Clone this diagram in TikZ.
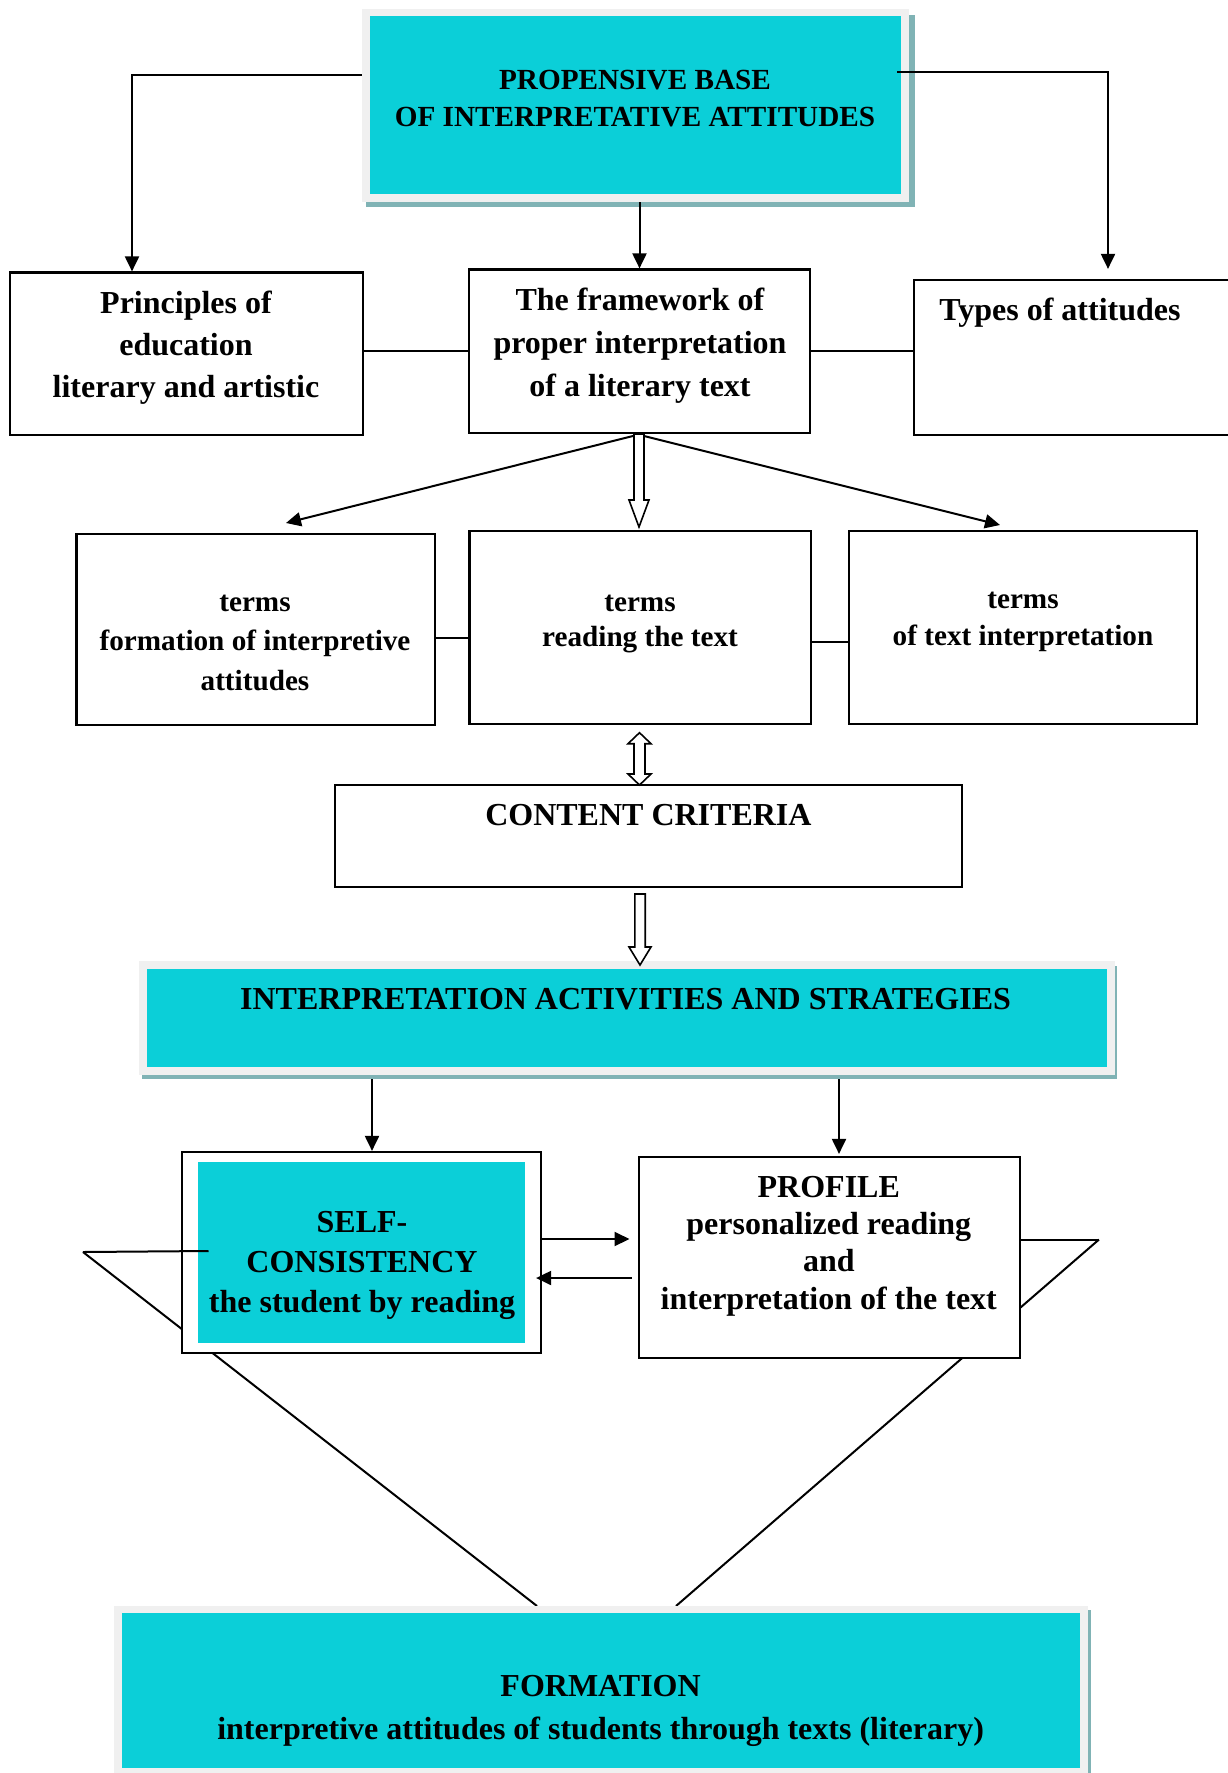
\documentclass[tikz,border=0pt]{standalone}
\usepackage{fontspec}
\setmainfont{Liberation Serif}
\usetikzlibrary{arrows.meta,fit,calc}
\definecolor{cyanc}{HTML}{0BCFD8}
\definecolor{framec}{HTML}{F0F0F0}
\definecolor{shadc}{HTML}{80B3B5}
\newcommand\hollowdown[5]{%
  \draw[hollow] let \p1=(#1), \p2=(#2) in
  ({\x1-#3},{\y1}) -- ({\x1-#3},{\y2+#5}) -- ({\x1-#4},{\y2+#5}) -- ({\x1},{\y2})
  -- ({\x1+#4},{\y2+#5}) -- ({\x1+#3},{\y2+#5}) -- ({\x1+#3},{\y1}) -- cycle;}
\newcommand\hollowboth[5]{%
  \draw[hollow] let \p1=(#1), \p2=(#2) in
  ({\x1},{\y1}) -- ({\x1+#4},{\y1-#5}) -- ({\x1+#3},{\y1-#5}) -- ({\x1+#3},{\y2+#5})
  -- ({\x1+#4},{\y2+#5}) -- ({\x1},{\y2}) -- ({\x1-#4},{\y2+#5}) -- ({\x1-#3},{\y2+#5})
  -- ({\x1-#3},{\y1-#5}) -- ({\x1-#4},{\y1-#5}) -- cycle;}
\begin{document}
\begin{tikzpicture}[x=0.5pt,y=-0.5pt,
  box/.style={draw=black, line width=1.1pt, fill=white, inner sep=0pt},
  cyanbox/.style={fill=cyanc, inner sep=0pt},
  framebox/.style={fill=framec, inner sep=0pt},
  shadowbox/.style={fill=shadc, inner sep=0pt},
  conn/.style={line width=1pt},
  arr/.style={conn, -{Triangle[length=7.5pt,width=7pt]}},
  hollow/.style={line width=0.8pt, fill=white, line join=miter},
  big/.style={inner sep=0pt, align=center, font=\fontsize{16pt}{21pt}\selectfont\bfseries},
  small/.style={inner sep=0pt, align=center, font=\fontsize{14.6pt}{17.5pt}\selectfont\bfseries}]
\useasboundingbox (0,0) rectangle (1227,1773);

% long diagonals (behind the boxes)
\coordinate (Lh) at (83,1252);
\coordinate (Lb) at (537,1606);
\coordinate (Rh) at (1099,1239.5);
\coordinate (Rb) at (676,1606);
\draw[conn] (Lh) -- (Lb);
\draw[conn] (Rh) -- (Rb);

% top box
\node[shadowbox, fit={(366,15)(915,207)}] (topS) {};
\node[framebox, fit={(362,9)(909,202)}] (topF) {};
\node[cyanbox, fit={(370,16)(901,194)}] (top) {};
\node[small, font=\fontsize{14.6pt}{18.6pt}\selectfont\bfseries] (topT) at (635,98.5) {PROPENSIVE BASE\\OF INTERPRETATIVE ATTITUDES};

% second row
\node[box, fit={(10,272.5)(363,435)}] (prin) {};
\node[big, font=\fontsize{16pt}{21pt}\selectfont\bfseries] (prinT) at (186,347.8) {Principles of\\education\\literary and artistic};
\node[box, fit={(469,269.5)(810,433)}] (fw) {};
\node[big, font=\fontsize{16pt}{21.5pt}\selectfont\bfseries] (fwT) at (640,345.5) {The framework of\\proper interpretation\\of a literary text};
\node[box, fit={(914,280)(1240,435)}] (types) {};
\node[big, anchor=base west] (typesT) at (939,320) {Types of attitudes};

% third row
\node[box, fit={(76.5,534)(435,725)}] (r3l) {};
\node[small, font=\fontsize{14.6pt}{19.6pt}\selectfont\bfseries] (r3lT) at (255,642.8) {terms\\formation of interpretive\\attitudes};
\node[box, fit={(469.5,530.7)(811,724)}] (r3m) {};
\node[small, font=\fontsize{14.6pt}{17.2pt}\selectfont\bfseries] (r3mT) at (640,624) {terms\\reading the text};
\node[box, fit={(849,530.7)(1197,724)}] (r3r) {};
\node[small, font=\fontsize{14.6pt}{18.3pt}\selectfont\bfseries] (r3rT) at (1023,622) {terms\\of text interpretation};

% content criteria
\node[box, fit={(335,785)(962,886.7)}] (cc) {};
\node[big, anchor=base] (ccT) at (648.4,825.5) {CONTENT CRITERIA};

% interpretation activities
\node[shadowbox, fit={(142,966)(1117,1079)}] (iaS) {};
\node[framebox, fit={(139,961)(1115,1075)}] (iaF) {};
\node[cyanbox, fit={(147,969)(1107,1067)}] (ia) {};
\node[big, anchor=base] (iaT) at (625.6,1009.3) {INTERPRETATION ACTIVITIES AND STRATEGIES};

% self-consistency
\node[box, fit={(182,1152)(541,1353)}] (self) {};
\node[cyanbox, fit={(198,1162)(525,1343)}] (selfC) {};
\node[big, font=\fontsize{16pt}{20pt}\selectfont\bfseries] (selfT) at (362,1265.8) {SELF-\\CONSISTENCY\\the student by reading};

% profile
\node[box, fit={(638.6,1157)(1019.6,1358)}] (prof) {};
\node[big, font=\fontsize{16pt}{18.65pt}\selectfont\bfseries] (profT) at (828.8,1246) {PROFILE\\personalized reading\\and\\interpretation of the text};

% formation
\node[shadowbox, fit={(117,1610)(1091,1800)}] (formS) {};
\node[framebox, fit={(114,1606)(1088,1800)}] (formF) {};
\node[cyanbox, fit={(122,1613)(1080,1768)}] (form) {};
\node[big, font=\fontsize{16pt}{21.5pt}\selectfont\bfseries] (formT) at (600.6,1710.6) {FORMATION\\interpretive attitudes of students through texts (literary)};

% connectors from the top box
\coordinate (c1) at (132,75);
\coordinate (c2) at (1108,72);
\draw[arr] (topF.west |- c1) -- (c1) -- (c1 |- prin.north);
\draw[arr] ($(top.east |- c2)+(-4,0)$) -- (c2) -- ($(c2 |- types.north)+(0,-10)$);
\draw[arr] (fw.north |- topF.south) -- (fw.north);

% second row links
\draw[conn] (prin.east |- fw.west) -- (fw.west);
\draw[conn] (fw.east) -- (fw.east -| types.west);

% fan
\coordinate (f1) at (633,436);
\coordinate (f1e) at (286,523);
\coordinate (f2) at (644,436);
\coordinate (f2e) at (1000,525);
\draw[arr] (f1) -- (f1e);
\draw[arr] (f2) -- (f2e);
\coordinate (h1s) at (639,434);
\coordinate (h1e) at (639,527);
\hollowdown{h1s}{h1e}{2.5pt}{5pt}{13.5pt}

% third row links
\coordinate (y638) at (0,638);
\coordinate (y642) at (0,642);
\draw[conn] (r3l.east |- y638) -- (r3m.west |- y638);
\draw[conn] (r3m.east |- y642) -- (r3r.west |- y642);

% hollow arrows around content criteria
\coordinate (h2a) at (639.5,732.7);
\coordinate (h2b) at (639.5,785);
\hollowboth{h2a}{h2b}{2.75pt}{5.75pt}{5.5pt}
\coordinate (h3s) at (640,894);
\coordinate (h3e) at (640,965);
\hollowdown{h3s}{h3e}{2.6pt}{5.5pt}{9pt}

% down to self and profile
\coordinate (d1) at (372,1079);
\coordinate (d2) at (839,1079);
\draw[arr] (d1) -- (d1 |- self.north);
\draw[arr] (d2) -- ($(d2 |- prof.north)+(0,-2)$);

% between self and profile
\coordinate (y1239) at (0,1239);
\coordinate (y1278) at (0,1278);
\draw[arr] (self.east |- y1239) -- ($(prof.west |- y1239)+(-8,0)$);
\draw[arr] ($(prof.west |- y1278)+(-6,0)$) -- ($(self.east |- y1278)+(-6,0)$);

% triangle tops
\draw[conn] (prof.east |- Rh) -- (Rh);
\coordinate (Lin) at (208.5,1251);
\draw[conn] (Lh) -- (Lin);
\end{tikzpicture}
\end{document}
